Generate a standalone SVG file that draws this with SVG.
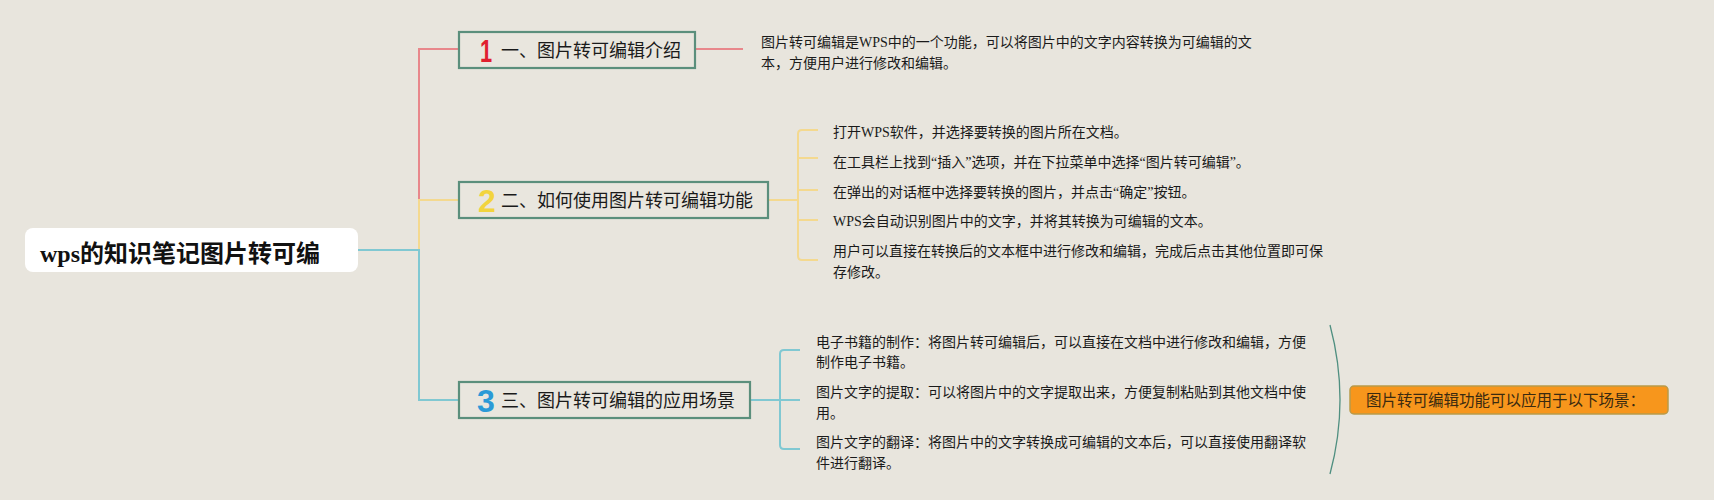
<svg xmlns="http://www.w3.org/2000/svg" width="1714" height="500" viewBox="0 0 1714 500">
<style>
.bg{fill:#e8e5dd}
.box{fill:#e9e6de;stroke:#5b8f7c;stroke-width:2.2}
.title{font-family:"Noto Sans CJK SC","Noto Sans",sans-serif;font-size:18px;fill:#1a1a1a}
.num{font-family:"Liberation Sans",Arial,sans-serif;font-weight:bold;font-size:32px}
.body{font-family:"Liberation Serif","Noto Sans CJK SC",serif;font-size:14px;fill:#1a1a1a}
.root{font-family:"Liberation Serif","Noto Sans CJK SC",serif;font-weight:bold;font-size:24px;fill:#111}
.red{stroke:#e8878b;stroke-width:2;fill:none}
.yel{stroke:#f4d98f;stroke-width:2;fill:none}
.cya{stroke:#80c8d2;stroke-width:2;fill:none}
</style>
<rect class="bg" x="0" y="0" width="1714" height="500"/>
<g id="connectors">
<path class="red" d="M419 200 V49 H459"/>
<path class="red" d="M695 49 H743" stroke="#eeaaa8"/>
<path class="yel" d="M419 250 V200 H459"/>
<path class="cya" d="M358 250 H419 V400 H459"/>
<path class="yel" d="M768 200 H798"/>
<path class="yel" d="M818 130 H802 Q798 130 798 134 V256 Q798 260 802 260 H818"/>
<path class="yel" d="M798 158 H818 M798 190 H818 M798 220 H818"/>
<path class="cya" d="M750 400 H800"/>
<path class="cya" d="M800 350 H784 Q780 350 780 354 V445 Q780 449 784 449 H800"/>
<path d="M1330 325 Q1350 400 1330 474" fill="none" stroke="#4f8f80" stroke-width="1.3"/>
</g>
<g id="root">
<rect x="25" y="228" width="333" height="44" rx="8" fill="#ffffff"/>
<text class="root" x="40" y="262">wps的知识笔记图片转可编</text>
</g>
<g id="node1">
<rect class="box" x="459" y="32" width="236" height="36"/>
<text class="num" transform="translate(480,62) scale(0.68,1)" x="0" y="0" fill="#e01f2f">1</text>
<text class="title" x="501" y="57">一、图片转可编辑介绍</text>
</g>
<g id="node1-text">
<text class="body" x="761" y="47">图片转可编辑是WPS中的一个功能，可以将图片中的文字内容转换为可编辑的文</text>
<text class="body" x="761" y="68">本，方便用户进行修改和编辑。</text>
</g>
<g id="node2">
<rect class="box" x="459" y="182" width="309" height="36"/>
<text class="num" x="478" y="212" fill="#f2d43e">2</text>
<text class="title" x="501" y="207">二、如何使用图片转可编辑功能</text>
</g>
<g id="node2-items">
<text class="body" x="833" y="137">打开WPS软件，并选择要转换的图片所在文档。</text>
<text class="body" x="833" y="167">在工具栏上找到“插入”选项，并在下拉菜单中选择“图片转可编辑”。</text>
<text class="body" x="833" y="197">在弹出的对话框中选择要转换的图片，并点击“确定”按钮。</text>
<text class="body" x="833" y="226">WPS会自动识别图片中的文字，并将其转换为可编辑的文本。</text>
<text class="body" x="833" y="256">用户可以直接在转换后的文本框中进行修改和编辑，完成后点击其他位置即可保</text>
<text class="body" x="833" y="277">存修改。</text>
</g>
<g id="node3">
<rect class="box" x="459" y="382" width="291" height="36"/>
<text class="num" x="477" y="412" fill="#2b9ad7">3</text>
<text class="title" x="501" y="407">三、图片转可编辑的应用场景</text>
</g>
<g id="node3-items">
<text class="body" x="816" y="347">电子书籍的制作：将图片转可编辑后，可以直接在文档中进行修改和编辑，方便</text>
<text class="body" x="816" y="367">制作电子书籍。</text>
<text class="body" x="816" y="397">图片文字的提取：可以将图片中的文字提取出来，方便复制粘贴到其他文档中使</text>
<text class="body" x="816" y="418">用。</text>
<text class="body" x="816" y="447">图片文字的翻译：将图片中的文字转换成可编辑的文本后，可以直接使用翻译软</text>
<text class="body" x="816" y="468">件进行翻译。</text>
</g>
<g id="summary">
<rect x="1350" y="386" width="318" height="28" rx="4" fill="#f7961c" stroke="#b89a4a" stroke-width="1.5"/>
<text x="1366" y="406" font-family="'Noto Sans CJK SC','Noto Sans',sans-serif" font-size="15.5" fill="#3a2a10">图片转可编辑功能可以应用于以下场景：</text>
</g>
</svg>
